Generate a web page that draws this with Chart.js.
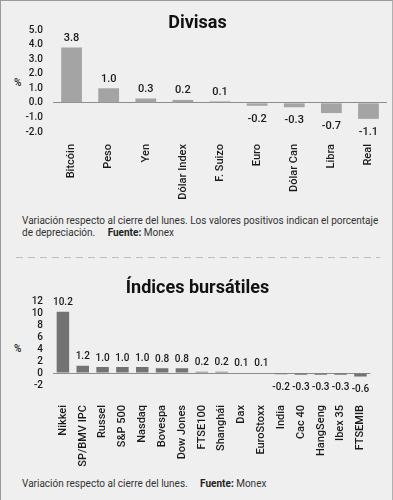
<!DOCTYPE html>
<html>
<head>
<meta charset="utf-8">
<script src="https://cdn.jsdelivr.net/npm/chart.js@4"></script>
<style>
  body { margin: 0; }
  #page {
    position: relative; width: 393px; height: 500px; box-sizing: border-box;
    background: #efefef; border-left: 1px solid #9a9a9a; border-top: 1px solid #9a9a9a; border-right: 1px solid #b0b0b0;
    font-family: Roboto, sans-serif; color: #222; overflow: hidden;
  }
  .title { position: absolute; left: 0; width: 393px; text-align: center; font-weight: 700; font-size: 18px; color: #111; z-index: 2; }
  .pct { position: absolute; left: 13px; font-size: 10px; font-weight: 500; }
  .note { position: absolute; left: 21px; font-size: 10px; line-height: 11.5px; color: #333; z-index: 2; }
  .note b { font-weight: 700; color: #222; }
  .sep { position: absolute; left: 15px; width: 364px; top: 256px; height: 1px;
    background: repeating-linear-gradient(to right, #bdbdbd 0 7px, transparent 7px 12px); }
  .box { position: absolute; left: 0; width: 393px; }
</style>
</head>
<body>
<div id="page">
  <div class="title" style="top:10px">Divisas</div>
  <div class="pct" style="top:76px">%</div>
  <div class="box" style="top:13px;height:188px"><canvas id="divisas"></canvas></div>
  <div class="note" style="top:214px">Variación respecto al cierre del lunes. Los valores positivos indican el porcentaje<br>de depreciación.&nbsp;&nbsp;&nbsp;&nbsp;&nbsp;<b>Fuente:</b> Monex</div>
  <div class="sep"></div>
  <div class="title" style="top:275px">Índices bursátiles</div>
  <div class="pct" style="top:342px">%</div>
  <div class="box" style="top:284px;height:188px"><canvas id="indices"></canvas></div>
  <div class="note" style="top:477px">Variación respecto al cierre del lunes.&nbsp;&nbsp;&nbsp;&nbsp;&nbsp;<b>Fuente:</b> Monex</div>
</div>
<script>
// Divisas
const divisasLabels = ['Bitcóin', 'Peso', 'Yen', 'Dólar Index', 'F. Suizo', 'Euro', 'Dólar Can', 'Libra', 'Real'];
const divisasValues = [3.8, 1.0, 0.3, 0.2, 0.1, -0.2, -0.3, -0.7, -1.1];
const divisasTicks = [-2, -1, 0, 1, 2, 3, 4, 5];

// Indices bursatiles
const indicesLabels = ['Nikkei', 'SP/BMV IPC', 'Russel', 'S&P 500', 'Nasdaq', 'Bovespa', 'Dow Jones', 'FTSE100',
  'Shanghái', 'Dax', 'EuroStoxx', 'India', 'Cac 40', 'HangSeng', 'Ibex 35', 'FTSEMIB'];
const indicesValues = [10.2, 1.2, 1.0, 1.0, 1.0, 0.8, 0.8, 0.2, 0.2, 0.1, 0.1, -0.2, -0.3, -0.3, -0.3, -0.6];
const indicesTicks = [-2, 0, 2, 4, 6, 8, 10, 12];

// value labels over / under each bar
const barValues = {
  id: 'barValues',
  afterDatasetsDraw(chart, args, opts) {
    const ctx = chart.ctx;
    const meta = chart.getDatasetMeta(0);
    const vals = chart.data.datasets[0].data;
    ctx.save();
    ctx.font = opts.font;
    ctx.fillStyle = '#1a1a1a';
    ctx.textAlign = 'center';
    meta.data.forEach((bar, i) => {
      const v = vals[i];
      if (v >= 0) {
        ctx.textBaseline = 'bottom';
        ctx.fillText(v.toFixed(1), bar.x, bar.y - opts.up);
      } else {
        ctx.textBaseline = 'top';
        ctx.fillText(v.toFixed(1), bar.x, bar.y + opts.down);
      }
    });
    ctx.restore();
  }
};

function makeChart(id, labels, values, ticks, color, barPct, xHeight, xPad, right, decimals, valueFont) {
  return new Chart(document.getElementById(id), {
    type: 'bar',
    data: {
      labels: labels,
      datasets: [{ data: values, backgroundColor: color, barPercentage: barPct, categoryPercentage: 1 }]
    },
    plugins: [barValues],
    options: {
      responsive: true,
      maintainAspectRatio: false,
      animation: false,
      layout: { padding: { top: 5, right: right, left: 0, bottom: 0 } },
      plugins: {
        legend: { display: false },
        tooltip: { enabled: false },
        barValues: { up: 4, down: 8, font: valueFont }
      },
      scales: {
        x: {
          grid: { display: false, drawTicks: false },
          border: { display: false },
          ticks: { minRotation: 90, maxRotation: 90, autoSkip: false, padding: xPad, color: '#1a1a1a',
            font: { family: 'Roboto', size: 11, weight: '500' } },
          afterFit(s) { s.height = xHeight; }
        },
        y: {
          min: ticks[0],
          max: ticks[ticks.length - 1],
          afterBuildTicks(s) { s.ticks = ticks.map(v => ({ value: v })); },
          grid: { drawTicks: false, color: c => (c.tick && c.tick.value === 0) ? '#8c8c8c' : 'rgba(0,0,0,0)' },
          border: { display: false },
          ticks: { autoSkip: false, padding: 10, color: '#1a1a1a', font: { family: 'Roboto', size: 10, weight: '500' },
            callback: v => v.toFixed(decimals) },
          afterFit(s) { s.width = 52; }
        }
      }
    }
  });
}

makeChart('divisas', divisasLabels, divisasValues, divisasTicks, '#a4a4a4', 0.56, 70, 12, 6, 1, '500 11px Roboto');
makeChart('indices', indicesLabels, indicesValues, indicesTicks, '#737373', 0.63, 88, 20, 11, 0, '500 10px Roboto');
</script>
</body>
</html>
